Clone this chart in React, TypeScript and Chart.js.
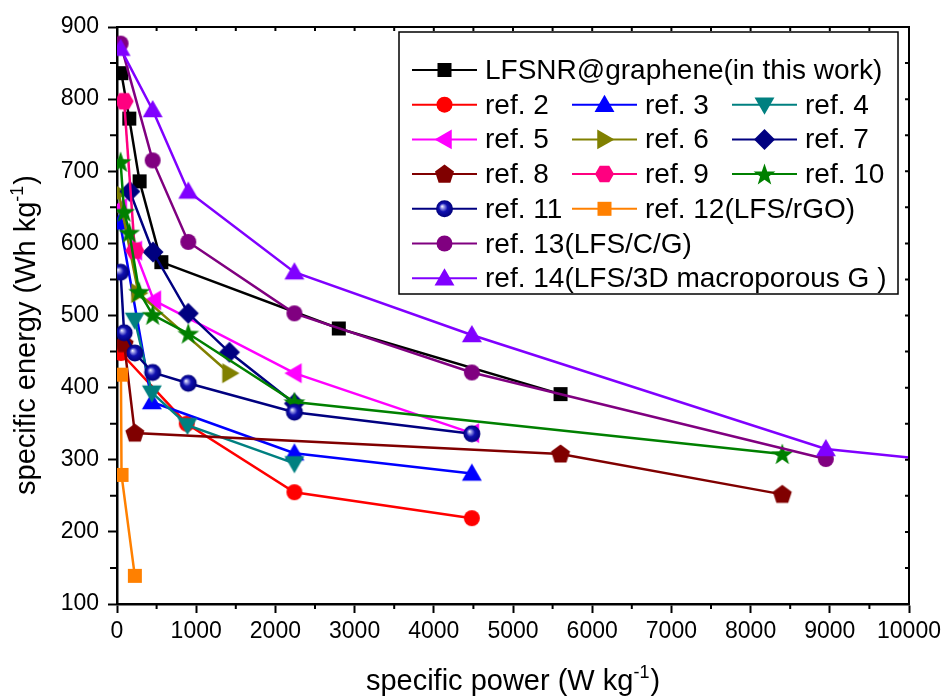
import React, { useEffect, useRef } from 'react';
import { Chart, registerables } from 'chart.js';

Chart.register(...registerables);

// ---------- data ----------
const seriesNames = [
  'LFSNR@graphene(in this work)',
  'ref. 2', 'ref. 3', 'ref. 4',
  'ref. 5', 'ref. 6', 'ref. 7',
  'ref. 8', 'ref. 9', 'ref. 10',
  'ref. 11', 'ref. 12(LFS/rGO)',
  'ref. 13(LFS/C/G)',
  'ref. 14(LFS/3D macroporous G )',
];
const seriesColors = [
  '#000000', '#FF0000', '#0000FF', '#008080', '#FF00FF', '#808000', '#000080',
  '#800000', '#FF0080', '#008000', '#000080', '#FF8000', '#800080', '#8000FF',
];
const seriesMarkers = [
  'square', 'circle', 'triUp', 'triDown', 'triLeft', 'triRight', 'diamond',
  'pentagon', 'hexagon', 'star', 'ball', 'square', 'circle', 'triUp',
];

const lfsnr = [[55, 836], [155, 773], [285, 686], [560, 574], [2800, 482], [5600, 391]];
const ref2 = [[50, 448], [880, 350], [2240, 255], [4480, 219]];
const ref3 = [[38, 629], [440, 380], [2240, 309], [4480, 281]];
const ref4 = [[224, 494], [440, 393], [890, 348], [2240, 295]];
const ref5 = [[35, 649], [225, 590], [465, 521], [2240, 420], [4480, 337]];
const ref6 = [[22, 670], [270, 531], [1420, 420]];
const ref7 = [[162, 672], [455, 588], [900, 503], [1420, 449], [2240, 378]];
const ref8 = [[90, 461], [225, 337], [5600, 308], [8400, 252]];
const ref9 = [[90, 797], [225, 590]];
const ref10 = [[45, 713], [90, 644], [155, 615], [280, 533], [450, 501], [900, 475], [2240, 380], [8400, 308]];
const ref11 = [[45, 560], [90, 476], [225, 448], [450, 421], [900, 406], [2240, 366], [4480, 336]];
const ref12 = [[50, 418], [57, 279], [225, 139]];
const ref13 = [[45, 877], [450, 715], [900, 602], [2240, 503], [4480, 421], [8950, 301]];
const ref14 = [[45, 870], [450, 785], [900, 672], [2240, 560], [4480, 473], [8950, 315], [17900, 213]];

const seriesData = [lfsnr, ref2, ref3, ref4, ref5, ref6, ref7, ref8, ref9, ref10, ref11, ref12, ref13, ref14];

const xMin = 0, xMax = 10000, xStep = 1000, xMinorStep = 500;
const yMin = 100, yMax = 900, yStep = 100, yMinorStep = 50;

const xTitle = 'specific power (W kg';
const yTitle = 'specific energy (Wh kg';
const titleSup = '-1';
const titleEnd = ')';

const FONT = '"Liberation Sans", Arial, Helvetica, sans-serif';

// ---------- markers ----------
function poly(g: CanvasRenderingContext2D, cx: number, cy: number, r: number, n: number, start: number) {
  g.beginPath();
  for (let i = 0; i < n; i++) {
    const a = start + (i * 2 * Math.PI) / n;
    const px = cx + r * Math.cos(a);
    const py = cy + r * Math.sin(a);
    if (i === 0) g.moveTo(px, py); else g.lineTo(px, py);
  }
  g.closePath();
  g.fill();
}

function drawMarker(g: CanvasRenderingContext2D, kind: string, color: string, cx: number, cy: number) {
  g.save();
  g.fillStyle = color;
  switch (kind) {
    case 'square':
      g.fillRect(cx - 7, cy - 7, 14, 14);
      break;
    case 'circle':
      g.beginPath(); g.arc(cx, cy, 8, 0, Math.PI * 2); g.fill();
      break;
    case 'triUp': poly(g, cx, cy + 1.5, 11.5, 3, -Math.PI / 2); break;
    case 'triDown': poly(g, cx, cy - 1.5, 11.5, 3, Math.PI / 2); break;
    case 'triLeft': poly(g, cx + 1.5, cy, 11.5, 3, Math.PI); break;
    case 'triRight': poly(g, cx - 1.5, cy, 11.5, 3, 0); break;
    case 'diamond': poly(g, cx, cy, 10.5, 4, -Math.PI / 2); break;
    case 'pentagon': poly(g, cx, cy + 0.5, 10, 5, -Math.PI / 2); break;
    case 'hexagon': poly(g, cx, cy, 9.5, 6, 0); break;
    case 'star': {
      g.beginPath();
      for (let i = 0; i < 10; i++) {
        const r = i % 2 === 0 ? 11.5 : 4.6;
        const a = -Math.PI / 2 + (i * Math.PI) / 5;
        const px = cx + r * Math.cos(a);
        const py = cy + 1 + r * Math.sin(a);
        if (i === 0) g.moveTo(px, py); else g.lineTo(px, py);
      }
      g.closePath(); g.fill();
      break;
    }
    case 'ball': {
      const grd = g.createRadialGradient(cx - 2.5, cy - 2.5, 0, cx, cy, 8.5);
      grd.addColorStop(0, '#ffffff');
      grd.addColorStop(0.2, '#9a9ae8');
      grd.addColorStop(0.5, '#1010b0');
      grd.addColorStop(1, '#00007a');
      g.fillStyle = grd;
      g.beginPath(); g.arc(cx, cy, 8.5, 0, Math.PI * 2); g.fill();
      break;
    }
  }
  g.restore();
}

function makeMarker(kind: string, color: string): HTMLCanvasElement {
  const c = document.createElement('canvas');
  c.width = 28; c.height = 28;
  const g = c.getContext('2d')!;
  drawMarker(g, kind, color, 14, 14);
  return c;
}

function drawTitleWithSup(ctx: CanvasRenderingContext2D, main: string, cx: number, baseY: number) {
  ctx.font = `29px ${FONT}`;
  const w1 = ctx.measureText(main).width;
  ctx.font = `18px ${FONT}`;
  const w2 = ctx.measureText(titleSup).width;
  ctx.font = `29px ${FONT}`;
  const w3 = ctx.measureText(titleEnd).width;
  const total = w1 + w2 + 1 + w3;
  let x = cx - total / 2;
  ctx.textAlign = 'left';
  ctx.textBaseline = 'alphabetic';
  ctx.font = `29px ${FONT}`;
  ctx.fillText(main, x, baseY);
  x += w1;
  ctx.font = `18px ${FONT}`;
  ctx.fillText(titleSup, x, baseY - 12);
  x += w2 + 1;
  ctx.font = `29px ${FONT}`;
  ctx.fillText(titleEnd, x, baseY);
}

export default function App() {
  const ref = useRef<HTMLCanvasElement>(null);

  useEffect(() => {
    if (!ref.current) return;
    const markers = seriesMarkers.map((m, i) => makeMarker(m, seriesColors[i]));
    const n = seriesData.length;
    const datasets = seriesData.map((pts, i) => ({
      label: seriesNames[i],
      data: pts.map(([x, y]) => ({ x, y })),
      showLine: true,
      borderColor: seriesColors[i],
      backgroundColor: seriesColors[i],
      borderWidth: 2.5,
      pointStyle: markers[i] as any,
      pointRadius: 8,
      pointHoverRadius: 8,
      tension: 0,
      order: n - i,
    }));

    const decor = {
      id: 'decor',
      afterDraw(chart: any) {
        const { ctx, chartArea } = chart;
        const { left, right, top, bottom } = chartArea;
        const xs = chart.scales.x;
        const ys = chart.scales.y;
        ctx.save();
        ctx.strokeStyle = '#000';
        ctx.fillStyle = '#000';
        // frame top & right
        ctx.lineWidth = 2;
        ctx.beginPath();
        ctx.moveTo(left - 1, top);
        ctx.lineTo(right, top);
        ctx.lineTo(right, bottom + 1);
        ctx.stroke();
        // minor ticks (outside) and inward ticks on top/right
        ctx.lineWidth = 2;
        ctx.beginPath();
        for (let v = xMin; v <= xMax; v += xMinorStep) {
          const px = xs.getPixelForValue(v);
          if (v % xStep !== 0) {
            ctx.moveTo(px, bottom);
            ctx.lineTo(px, bottom + 5);
          }
          ctx.moveTo(px, top);
          ctx.lineTo(px, top + 4);
        }
        for (let v = yMin; v <= yMax; v += yMinorStep) {
          const py = ys.getPixelForValue(v);
          if (v % yStep !== 0) {
            ctx.moveTo(left, py);
            ctx.lineTo(left - 7, py);
          }
          ctx.moveTo(right, py);
          ctx.lineTo(right - 4, py);
        }
        ctx.stroke();

        // axis titles
        ctx.fillStyle = '#000';
        drawTitleWithSup(ctx, xTitle, (left + right) / 2, 690);
        ctx.save();
        ctx.translate(35, 335);
        ctx.rotate(-Math.PI / 2);
        drawTitleWithSup(ctx, yTitle, 0, 0);
        ctx.restore();

        // legend
        const bx = 399, by = 32, bw = 499, bh = 262;
        ctx.fillStyle = '#fff';
        ctx.fillRect(bx, by, bw, bh);
        ctx.strokeStyle = '#000';
        ctx.lineWidth = 1.5;
        ctx.strokeRect(bx, by, bw, bh);
        const lineX = [412, 572, 732];
        const textX = [485, 645, 805];
        ctx.font = `28px ${FONT}`;
        ctx.textAlign = 'left';
        ctx.textBaseline = 'alphabetic';
        for (let i = 0; i < n; i++) {
          let row = 0, col = 0;
          if (i === 0) { row = 0; col = 0; }
          else if (i <= 11) { row = 1 + Math.floor((i - 1) / 3); col = (i - 1) % 3; }
          else { row = i - 7; col = 0; }
          const ry = 70 + row * 34.7;
          ctx.strokeStyle = seriesColors[i];
          ctx.lineWidth = 2;
          ctx.beginPath();
          ctx.moveTo(lineX[col], ry);
          ctx.lineTo(lineX[col] + 65, ry);
          ctx.stroke();
          drawMarker(ctx, seriesMarkers[i], seriesColors[i], lineX[col] + 32.5, ry);
          ctx.fillStyle = '#000';
          ctx.fillText(seriesNames[i], textX[col], ry + 9);
        }
        ctx.restore();
      },
    };

    const tickFont = { family: FONT, size: 23 };
    const chart = new Chart(ref.current, {
      type: 'scatter',
      data: { datasets: datasets as any },
      options: {
        responsive: false,
        animation: false,
        devicePixelRatio: 1,
        events: [],
        layout: { padding: { top: 27, right: 37, left: 0, bottom: 0 } },
        plugins: { legend: { display: false }, tooltip: { enabled: false }, title: { display: false } },
        scales: {
          x: {
            type: 'linear',
            position: 'bottom',
            min: xMin,
            max: xMax,
            ticks: {
              stepSize: xStep,
              color: '#000',
              font: tickFont,
              padding: 5,
              maxRotation: 0,
              autoSkip: false,
              callback: (v: any) => String(v),
            },
            grid: { display: true, drawOnChartArea: false, drawTicks: true, tickLength: 9, tickWidth: 2, tickColor: '#000' },
            border: { display: true, color: '#000', width: 2.5 },
            afterFit: (s: any) => { s.height = 94; },
          },
          y: {
            type: 'linear',
            position: 'left',
            min: yMin,
            max: yMax,
            ticks: {
              stepSize: yStep,
              color: '#000',
              font: tickFont,
              padding: 9,
              autoSkip: false,
              callback: (v: any) => String(v),
            },
            grid: { display: true, drawOnChartArea: false, drawTicks: true, tickLength: 9, tickWidth: 2, tickColor: '#000' },
            border: { display: true, color: '#000', width: 2.5 },
            afterFit: (s: any) => { s.width = 117; },
          },
        },
      } as any,
      plugins: [decor],
    });
    return () => chart.destroy();
  }, []);

  return (
    <div style={{ position: 'fixed', left: 0, top: 0, width: 946, height: 698, background: '#fff' }}>
      <canvas ref={ref} width={946} height={698} style={{ display: 'block' }} />
    </div>
  );
}
